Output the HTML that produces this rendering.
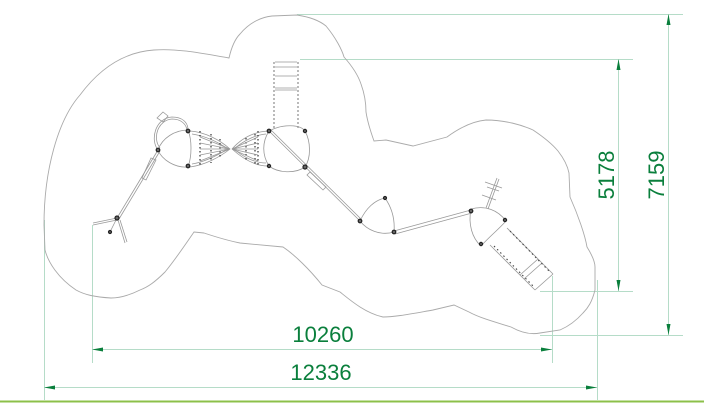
<!DOCTYPE html>
<html><head><meta charset="utf-8"><style>
html,body{margin:0;padding:0;background:#fff;width:704px;height:403px;overflow:hidden}
svg{display:block}
text{font-family:"Liberation Sans",sans-serif;fill:#0a7f3c}
</style></head><body>
<svg width="704" height="403" viewBox="0 0 704 403" xmlns="http://www.w3.org/2000/svg">
<g stroke="#b5dcc8" stroke-width="1" fill="none">
<line x1="297" y1="14.5" x2="683" y2="14.5"/>
<line x1="300" y1="59.5" x2="633" y2="59.5"/>
<line x1="540" y1="291.5" x2="633" y2="291.5"/>
<line x1="540" y1="335.5" x2="683" y2="335.5"/>
<line x1="44.5" y1="220" x2="44.5" y2="400"/>
<line x1="92.5" y1="225" x2="92.5" y2="363"/>
<line x1="552.5" y1="276" x2="552.5" y2="363"/>
<line x1="597.5" y1="280" x2="597.5" y2="400"/>
<line x1="92" y1="349.5" x2="552" y2="349.5"/>
<line x1="44" y1="387.5" x2="597" y2="387.5"/>
<line x1="618.5" y1="59" x2="618.5" y2="291"/>
<line x1="668.5" y1="14" x2="668.5" y2="335"/>
</g>
<g fill="#0a7f3c">
<polygon points="92,349.5 103,347.5 103,351.5"/>
<polygon points="552,349.5 541,347.5 541,351.5"/>
<polygon points="44,387.5 55,385.5 55,389.5"/>
<polygon points="597,387.5 586,385.5 586,389.5"/>
<polygon points="618.5,59 616.5,70 620.5,70"/>
<polygon points="618.5,291 616.5,280 620.5,280"/>
<polygon points="668.5,14 666.5,25 670.5,25"/>
<polygon points="668.5,335 666.5,324 670.5,324"/>
</g>
<line x1="0" y1="401.5" x2="704" y2="401.5" stroke="#8cc04a" stroke-width="2"/>
<text x="323" y="342" font-size="22" text-anchor="middle">10260</text>
<text x="321" y="380" font-size="22" text-anchor="middle">12336</text>
<text transform="translate(614,175) rotate(-90)" font-size="22" text-anchor="middle">5178</text>
<text transform="translate(664,175) rotate(-90)" font-size="22" text-anchor="middle">7159</text>

<path fill="none" stroke="#aaa" stroke-width="0.9" d="M44,225 C44,170 58,120 80,95 C100,68 125,52 154,50 C180,48 210,55 229,58 C232,45 236,38 240,34 C250,22 262,17 272,16 L297,15 C310,17 320,21 326,26 C336,38 342,50 344,57 C352,66 358,75 361,84 C365,95 366,105 366,112 C368,125 372,135 374,141 L386,140 L413,146 L447,137 C462,126 475,121 486,120 C505,120 522,125 533,130 C545,138 553,145 558,151 C565,160 568,168 569,173 L570,197 C578,215 585,235 587,247 C592,255 595,262 595,267 L595,290 C592,302 588,308 583,313 C575,322 567,327 560,330 L540,333 C530,335 520,332 511,327 C495,322 480,318 469,312 L454,305 L433,310 C410,314 395,317 383,317 C365,313 350,300 340,292 L322,285 C310,270 295,255 283,247 L240,243 C225,240 213,236 204,233 L194,232 C185,245 175,260 165,272 C155,282 148,287 140,290 C128,296 118,298 111,298 C95,297 85,295 76,290 C58,278 48,262 45,250 Z"/>

<g fill="none" stroke="#999" stroke-width="0.8">
<line x1="274" y1="62" x2="274" y2="130" stroke="#555" stroke-dasharray="2,2"/>
<line x1="298" y1="62" x2="298" y2="128" stroke="#555" stroke-dasharray="2,2"/>
<line x1="275" y1="62" x2="297" y2="62"/>
<line x1="275" y1="67" x2="297" y2="67"/>
<line x1="275" y1="76" x2="297" y2="76"/>
<line x1="275" y1="88" x2="297" y2="88"/>
<line x1="275" y1="90" x2="297" y2="90"/>
<path d="M158,150 C162,138 175,130 188,130 C192,140 192,156 188,167 C175,168 162,160 158,150"/>
<path d="M158,150 C150,140 155,118 172,117 C182,117 188,122 188,130"/>
<path d="M160,148 C152,138 158,120 172,119 C181,119 186,124 187,130"/>
<path d="M157,118 l6,-6 l5,4 l-5,6z"/>
<path d="M190,131 C205,132 220,140 230,149 C220,157 205,165 190,167"/>
<path d="M192,134 C205,136 218,142 228,149 C218,155 205,162 192,164"/>
<path d="M232,149 C240,140 252,132 268,131"/>
<path d="M232,149 C242,158 254,166 268,166"/>
<path d="M234,149 C242,142 254,135 266,134"/>
<path d="M234,149 C242,156 254,163 266,163"/>
<line x1="200" y1="131" x2="200" y2="167" stroke="#333" stroke-dasharray="1.5,2.5" stroke-width="1.2"/>
<line x1="211" y1="134" x2="211" y2="163" stroke="#333" stroke-dasharray="1.5,2.5" stroke-width="1.2"/>
<line x1="220" y1="139" x2="220" y2="159" stroke="#333" stroke-dasharray="1.5,2.5" stroke-width="1.2"/>
<line x1="246" y1="138" x2="246" y2="161" stroke="#333" stroke-dasharray="1.5,2.5" stroke-width="1.2"/>
<line x1="255" y1="134" x2="255" y2="164" stroke="#333" stroke-dasharray="1.5,2.5" stroke-width="1.2"/>
<line x1="258" y1="131" x2="258" y2="167" stroke="#333" stroke-dasharray="1.5,2.5" stroke-width="1.2"/>
<line x1="200" y1="137" x2="230" y2="149"/><line x1="200" y1="143" x2="230" y2="149"/><line x1="200" y1="149" x2="230" y2="149"/><line x1="200" y1="155" x2="230" y2="149"/><line x1="200" y1="161" x2="230" y2="149"/>
<line x1="258" y1="137" x2="232" y2="149"/><line x1="258" y1="143" x2="232" y2="149"/><line x1="258" y1="149" x2="232" y2="149"/><line x1="258" y1="155" x2="232" y2="149"/><line x1="258" y1="161" x2="232" y2="149"/>
<path d="M269,131 C282,124 300,124 305,131 C311,142 311,158 305,167 C295,174 278,173 269,166 C262,155 262,142 269,131"/>
<line x1="269" y1="131" x2="360" y2="221" stroke="#999"/>
<line x1="271" y1="130" x2="361" y2="219"/>
<path d="M310,172 l16,15 l-3,3 l-16,-15z"/>
<line x1="158" y1="150" x2="117" y2="218"/>
<line x1="160" y1="151" x2="119" y2="219"/>
<path d="M151,158 l5,2 l-10,20 l-4,-2z"/>
<line x1="117" y1="218" x2="93" y2="223"/>
<line x1="117" y1="220" x2="93" y2="225"/>
<line x1="117" y1="218" x2="110" y2="232"/>
<line x1="118" y1="220" x2="125" y2="243"/>
<line x1="120" y1="220" x2="127" y2="242"/>
<path d="M360,221 C366,208 375,200 385,198 C392,208 395,220 394,232 C380,236 367,230 360,221"/>
<line x1="394" y1="231" x2="471" y2="210"/>
<line x1="395" y1="234" x2="472" y2="213"/>
<path d="M471,209 C485,205 498,210 506,221 C498,230 490,236 481,246 C472,238 468,224 471,209"/>
<line x1="486" y1="208" x2="497" y2="178"/>
<line x1="488" y1="209" x2="499" y2="179"/>
<line x1="485" y1="182" x2="502" y2="188"/><line x1="487" y1="187" x2="499" y2="191"/><line x1="482" y1="195" x2="496" y2="200"/>
<line x1="490" y1="245" x2="535" y2="290"/>
<line x1="507" y1="228" x2="553" y2="274"/>
<line x1="535" y1="290" x2="553" y2="274"/>
<line x1="520" y1="275" x2="538" y2="259"/>
<line x1="524" y1="279" x2="542" y2="263"/>
<line x1="494" y1="246" x2="533" y2="286" stroke-dasharray="1.5,3" stroke="#444" stroke-width="1.1"/>
<line x1="510" y1="231" x2="550" y2="272" stroke-dasharray="1.5,3" stroke="#444" stroke-width="1.1"/>
</g>
<g fill="#666" stroke="#222" stroke-width="1.2">
<circle cx="158" cy="150" r="1.8"/><circle cx="188" cy="131" r="1.8"/><circle cx="188" cy="166" r="1.8"/>
<circle cx="117" cy="218" r="2"/><circle cx="110" cy="232" r="1.5"/>
<circle cx="269" cy="131" r="1.8"/><circle cx="305" cy="131" r="1.6"/><circle cx="269" cy="166" r="1.6"/><circle cx="305" cy="167" r="2"/>
<circle cx="360" cy="221" r="1.8"/><circle cx="385" cy="198" r="1.5"/><circle cx="394" cy="232" r="1.8"/>
<circle cx="471" cy="211" r="1.8"/><circle cx="505" cy="220" r="1.6"/><circle cx="481" cy="244" r="1.6"/>
</g>
</svg>
</body></html>
